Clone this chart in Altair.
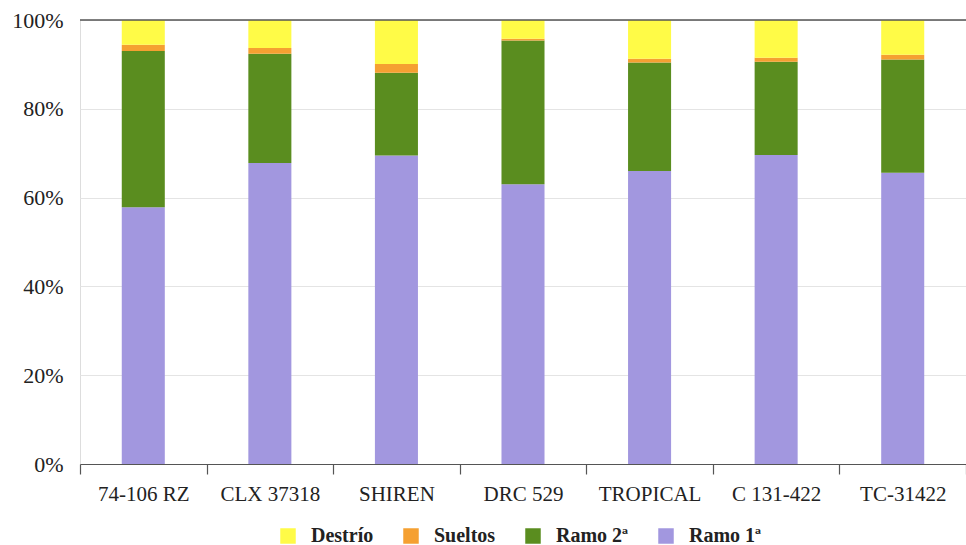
import altair as alt
import pandas as pd

varieties = ["74-106 RZ", "CLX 37318", "SHIREN", "DRC 529", "TROPICAL", "C 131-422", "TC-31422"]
ramo1 = [57.8, 67.8, 69.5, 63.0, 66.0, 69.6, 65.6]
ramo2 = [35.2, 24.6, 18.6, 32.4, 24.4, 21.0, 25.5]
sueltos = [1.4, 1.3, 2.0, 0.4, 0.9, 0.9, 1.1]
destrio = [5.6, 6.3, 9.9, 4.2, 8.7, 8.5, 7.8]

series = ["Destrío", "Sueltos", "Ramo 2ª", "Ramo 1ª"]
colors = ["#FFFB47", "#F5A031", "#5A8D1F", "#A297DF"]
stack_order = {"Ramo 1ª": 0, "Ramo 2ª": 1, "Sueltos": 2, "Destrío": 3}

rows = []
for i, v in enumerate(varieties):
    for name, vals in [("Ramo 1ª", ramo1), ("Ramo 2ª", ramo2), ("Sueltos", sueltos), ("Destrío", destrio)]:
        rows.append({"variedad": v, "serie": name, "valor": vals[i], "orden": stack_order[name]})
df = pd.DataFrame(rows)

FONT = "Liberation Serif"

bars = alt.Chart(df).mark_bar(width=alt.RelativeBandSize(0.34)).encode(
    x=alt.X("variedad:N", sort=varieties, title=None,
            scale=alt.Scale(paddingInner=0, paddingOuter=0),
            axis=alt.Axis(labelAngle=0, labelFont=FONT, labelFontSize=21, labelColor="#222",
                          domainColor="#555", domainWidth=1.2, tickColor="#555", tickSize=10,
                          tickWidth=1.2, tickBand="extent", labelPadding=9)),
    y=alt.Y("valor:Q", stack="zero", title=None,
            scale=alt.Scale(domain=[0, 100], nice=False),
            axis=alt.Axis(values=[0, 20, 40, 60, 80, 100], labelExpr="datum.value + '%'",
                          labelFont=FONT, labelFontSize=22, labelColor="#222",
                          domain=False, ticks=False, labelPadding=17,
                          gridColor="#e4e4e4", gridWidth=1)),
    color=alt.Color("serie:N", scale=alt.Scale(domain=series, range=colors),
                    legend=alt.Legend(title=None, orient="none", direction="horizontal",
                                      legendX=198, legendY=506,
                                      symbolType="square", symbolSize=240, symbolStrokeWidth=0,
                                      labelFont=FONT, labelFontSize=20, labelFontWeight="bold",
                                      labelColor="#222", labelOffset=13, columnPadding=27)),
    order=alt.Order("orden:Q", sort="ascending"),
)

top = alt.Chart(pd.DataFrame({"y": [100]})).mark_rule(color="#555", strokeWidth=1.6).encode(
    y=alt.Y("y:Q")
)

chart = alt.layer(bars, top).properties(
    width=886, height=444,
    padding={"left": 80, "top": 20, "right": 0, "bottom": 81},
    autosize=alt.AutoSizeParams(type="none"),
).configure_view(stroke=None).configure(background="white")

chart.save("out.html", embed_options={"renderer": "svg", "actions": False})
